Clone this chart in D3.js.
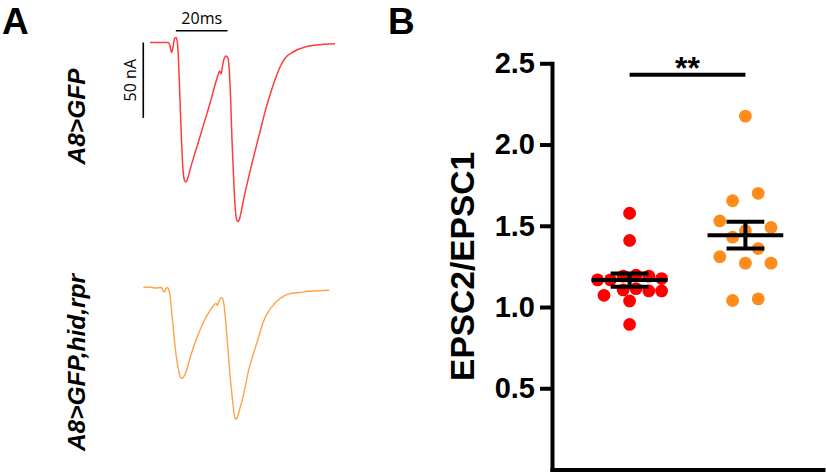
<!DOCTYPE html>
<html><head><meta charset="utf-8">
<script src="https://cdn.jsdelivr.net/npm/d3@7"></script>
<style>body{margin:0;background:#fff} svg{display:block}</style>
</head><body>
<svg id="c" width="826" height="474"></svg>
<script>
// ---------- DATA ----------
const groups = ["A8>GFP", "A8>GFP,hid,rpr"];
const controlValues = [1.577, 1.41, 1.167, 1.167, 1.19, 1.196, 1.19, 1.175, 1.072, 1.105, 1.113, 1.099, 1.099, 1.037, 0.893];
const ablatedValues = [2.175, 1.654, 1.70, 1.53, 1.47, 1.49, 1.43, 1.36, 1.31, 1.27, 1.27, 1.04, 1.05];
const yTicks = [0.5, 1.0, 1.5, 2.0, 2.5];
const sigLabel = "**";

// EPSC traces: time (ms) and current (nA)
const controlTraceT = [0,7.16,7.74,8.32,8.9,9.48,10.06,10.56,11.03,11.6,12.19,12.77,13.42,13.93,14.51,15.47,17.41,19.34,21.28,23.21,25.15,26.31,26.89,27.47,28.05,28.63,29.4,30.1,30.56,31.14,31.72,32.3,32.88,33.46,34.04,34.62,35.3,36.17,37.91,40.2,42.55,44.5,46.42,48.5,50.68,53,55.32,59.96,64.49,71.57];
const controlTraceI = [0,0,-2.3,-6.6,-3.0,2.6,3.3,0.3,-11.6,-38.1,-64.7,-84.5,-91.8,-92.5,-90.5,-84.5,-73.3,-62.5,-51.4,-40.3,-28.2,-21.6,-18.9,-20.9,-15.6,-10.9,-9.0,-10.3,-15.6,-34.8,-64.7,-87.9,-107.8,-117,-118.7,-117,-112,-104.4,-91.2,-75,-59.2,-46,-34.8,-24,-14.9,-9,-6.3,-3.0,-1.7,-0.8];
const ablatedTraceT = [0,2.59,4.53,7.04,7.62,8.12,8.7,9.28,9.75,10.33,11.1,11.68,12.26,12.92,13.62,14.39,14.97,15.55,16.52,18.07,20,21.93,23.87,25.8,27.35,28.12,28.7,29.28,30.06,30.64,31.22,31.99,32.77,33.54,34.31,35.09,35.67,36.25,37.41,38.18,39.34,40.62,42.44,44.49,46.42,48.36,50.29,52.22,54.82,57.41,60.62,63.83,67.58,71.95];
const ablatedTraceI = [0,0.3,-0.3,0,-1.7,-3.0,-1.0,0,-1.0,-5.3,-18.2,-28.2,-38.8,-47.4,-54.7,-59.4,-60.2,-59.4,-56,-46.8,-36.8,-28.2,-20.9,-15.3,-11.6,-10.5,-11.9,-9.0,-6.8,-7.0,-11.6,-24.9,-41.4,-58.0,-71.3,-83.2,-87.4,-86.5,-79.9,-75.3,-66.6,-56.0,-44.8,-33.7,-22.9,-16.0,-11.6,-8.3,-5.3,-3.8,-3.3,-2.5,-2.2,-1.8];
const scaleBarTime = 20;    // ms
const scaleBarCurrent = 50; // nA

// ---------- DRAW ----------
const svg = d3.select("#c");
const FONT = "'Liberation Sans', Arial, sans-serif";
const RED = "#ff0000", ORANGE = "#ff8c1a";
const TRACE_RED = "#ff3b3b", TRACE_ORANGE = "#ffa347";

// Panel letters
svg.append("text").attr("x", 2).attr("y", 33.5).text("A")
  .attr("font-family", FONT).attr("font-weight", "bold").attr("font-size", 37);
svg.append("text").attr("x", 388).attr("y", 33.5).text("B")
  .attr("font-family", FONT).attr("font-weight", "bold").attr("font-size", 37);

// ----- Panel A -----
const pxPerMs = 2.585, pxPerNa = 1.508;
const tx = d3.scaleLinear().domain([0, 1]).range([0, pxPerMs]);
const iy = d3.scaleLinear().domain([0, -1]).range([0, pxPerNa]);
const line = d3.line().x(d => tx(d[0])).y(d => iy(d[1])).curve(d3.curveMonotoneX);

const gRed = svg.append("g").attr("transform", "translate(150,42.5)");
gRed.append("path").datum(d3.zip(controlTraceT, controlTraceI)).attr("d", line)
  .attr("fill", "none").attr("stroke", TRACE_RED).attr("stroke-width", 1.5);

const gOr = svg.append("g").attr("transform", "translate(143.3,287.5)");
gOr.append("path").datum(d3.zip(ablatedTraceT, ablatedTraceI)).attr("d", line)
  .attr("fill", "none").attr("stroke", TRACE_ORANGE).attr("stroke-width", 1.4);

// scale bars
const hbT0 = 10, hbI = 7.8, vbT = -2.6;
gRed.append("line").attr("x1", tx(hbT0)).attr("x2", tx(hbT0 + scaleBarTime))
  .attr("y1", iy(hbI)).attr("y2", iy(hbI)).attr("stroke", "#000").attr("stroke-width", 1.6);
gRed.append("text").attr("x", tx(hbT0 + scaleBarTime / 2)).attr("y", iy(hbI) - 6.5)
  .attr("text-anchor", "middle").attr("font-family", "'Open Sans', sans-serif").attr("font-size", 16)
  .text(scaleBarTime + "ms");
gRed.append("line").attr("x1", tx(vbT)).attr("x2", tx(vbT))
  .attr("y1", iy(0)).attr("y2", iy(-scaleBarCurrent)).attr("stroke", "#000").attr("stroke-width", 1.6);
gRed.append("text").attr("transform", `translate(${tx(vbT) - 7.5},${iy(-scaleBarCurrent / 2)}) rotate(-90)`)
  .attr("text-anchor", "middle").attr("font-family", "'Open Sans', sans-serif").attr("font-size", 16)
  .text(scaleBarCurrent + " nA");

// genotype labels
[[groups[0], 116.5], [groups[1], 362.5]].forEach(([lab, cy]) => {
  svg.append("text").attr("transform", `translate(85,${cy}) rotate(-90)`)
    .attr("text-anchor", "middle").attr("font-family", FONT).attr("font-weight", "bold")
    .attr("font-style", "italic").attr("font-size", 24.5).text(lab);
});

// ----- Panel B -----
const axL = 552, axR = 823, axB = 469.5, axT = 63.3;
const y = d3.scaleLinear().domain([0, 2.5]).range([axB, axT]);
const x = d3.scalePoint().domain(groups).range([axL, axR]).padding(0.67);

const yAxis = svg.append("g").attr("transform", `translate(${axL},0)`)
  .call(d3.axisLeft(y).tickValues(yTicks).tickFormat(d3.format(".1f")).tickSize(12).tickSizeOuter(0).tickPadding(5));
yAxis.select(".domain").attr("stroke-width", 4).attr("stroke-linecap", "square");
yAxis.selectAll(".tick line").attr("stroke-width", 4);
yAxis.selectAll(".tick text").attr("font-family", FONT).attr("font-weight", "bold").attr("font-size", 29).attr("fill", "#000");

const xAxis = svg.append("g").attr("transform", `translate(0,${axB})`)
  .call(d3.axisBottom(x).tickValues([]).tickSizeOuter(0));
xAxis.select(".domain").attr("stroke-width", 4).attr("stroke-linecap", "square");

svg.append("text").attr("transform", `translate(474,${(axB + axT) / 2}) rotate(-90)`)
  .attr("text-anchor", "middle").attr("font-family", FONT).attr("font-weight", "bold")
  .attr("font-size", 33.5).text("EPSC2/EPSC1");

// scatter layout (row-based swarm)
const R = 6.4, D = 2 * R;
function swarm(values, maxW) {
  const pts = values.map((v, i) => ({ v, i, y: y(v) }));
  const sorted = pts.slice().sort((a, b) => a.y - b.y);
  const rows = []; let cur = null;
  sorted.forEach(p => { if (cur && p.y - cur[0].y < 0.95 * D) cur.push(p); else { cur = [p]; rows.push(cur); } });
  const placed = [];
  rows.forEach(row => {
    const k = row.length;
    const step = k * 2 * D > maxW ? D : 2 * D;
    row.sort((a, b) => a.i - b.i);
    row.forEach((p, j) => {
      let off = (j - (k - 1) / 2) * step;
      const cands = [off];
      for (let m = 1; m <= 12; m++) { cands.push(off + m * D / 2, off - m * D / 2); }
      for (const c of cands) {
        if (placed.every(q => Math.hypot(q.dx - c, q.y - p.y) >= 0.95 * D)) { off = c; break; }
      }
      p.dx = off; placed.push(p);
    });
  });
  return pts;
}

const step = x.step();
[[controlValues, RED], [ablatedValues, ORANGE]].forEach(([vals, col], gi) => {
  const cx = x(groups[gi]);
  const pts = swarm(vals, 80);
  svg.append("g").selectAll("circle").data(pts).join("circle")
    .attr("cx", d => cx + d.dx).attr("cy", d => d.y).attr("r", R).attr("fill", col);
  const m = d3.mean(vals), sem = d3.deviation(vals) / Math.sqrt(vals.length);
  const g = svg.append("g").attr("stroke", "#000").attr("stroke-width", 4);
  const mw = step * 0.327, cw = step * 0.163;
  g.append("line").attr("x1", cx - mw).attr("x2", cx + mw).attr("y1", y(m)).attr("y2", y(m));
  g.append("line").attr("x1", cx).attr("x2", cx).attr("y1", y(m - sem)).attr("y2", y(m + sem));
  g.append("line").attr("x1", cx - cw).attr("x2", cx + cw).attr("y1", y(m + sem)).attr("y2", y(m + sem));
  g.append("line").attr("x1", cx - cw).attr("x2", cx + cw).attr("y1", y(m - sem)).attr("y2", y(m - sem));
});

// significance
const sigY = 2.43;
svg.append("line").attr("x1", x(groups[0])).attr("x2", x(groups[1]))
  .attr("y1", y(sigY)).attr("y2", y(sigY)).attr("stroke", "#000").attr("stroke-width", 4);
svg.append("text").attr("x", (x(groups[0]) + x(groups[1])) / 2).attr("y", y(sigY) + 4)
  .attr("text-anchor", "middle").attr("font-family", FONT).attr("font-weight", "bold")
  .attr("font-size", 32).text(sigLabel);
</script>
</body></html>
